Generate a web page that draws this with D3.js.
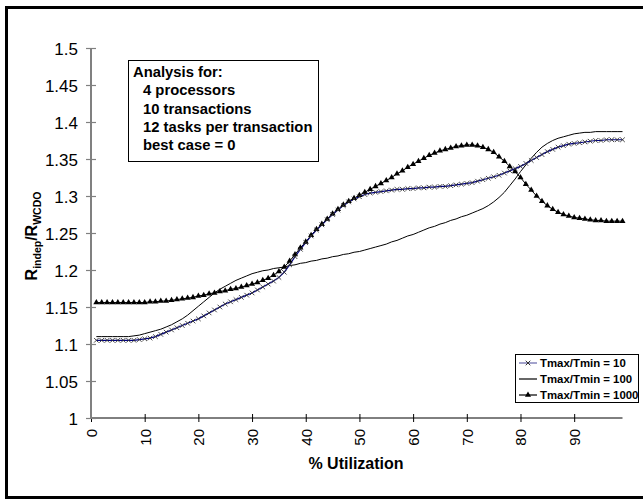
<!DOCTYPE html>
<html><head><meta charset="utf-8">
<script src="https://cdn.jsdelivr.net/npm/d3@7"></script>
<style>body{margin:0;background:#fff}svg{display:block}text{font-family:"Liberation Sans",Arial,sans-serif}</style>
</head><body>
<svg id="c" width="643" height="502"></svg>
<script>
const utilization = d3.range(1, 100);
const seriesNames = ["Tmax/Tmin = 10", "Tmax/Tmin = 100", "Tmax/Tmin = 1000"];
const t10 = [1.105,1.105,1.105,1.105,1.105,1.105,1.105,1.105,1.106,1.107,
1.108,1.110,1.113,1.116,1.119,1.122,1.125,1.128,1.131,1.134,
1.138,1.142,1.146,1.150,1.154,1.157,1.160,1.163,1.166,1.169,
1.173,1.177,1.181,1.185,1.190,1.197,1.207,1.218,1.228,1.237,
1.246,1.254,1.261,1.268,1.275,1.281,1.287,1.292,1.296,1.299,
1.302,1.304,1.305,1.306,1.307,1.308,1.309,1.309,1.310,1.310,
1.311,1.311,1.312,1.312,1.313,1.313,1.314,1.315,1.316,1.317,
1.318,1.320,1.322,1.324,1.326,1.328,1.331,1.334,1.337,1.340,
1.344,1.348,1.352,1.356,1.360,1.363,1.366,1.368,1.370,1.371,
1.372,1.373,1.374,1.375,1.375,1.376,1.376,1.376,1.376];
const t100 = [1.110,1.110,1.110,1.110,1.110,1.110,1.110,1.111,1.112,1.114,
1.116,1.118,1.120,1.123,1.126,1.130,1.134,1.139,1.145,1.151,
1.157,1.163,1.169,1.174,1.178,1.182,1.186,1.189,1.192,1.195,
1.197,1.199,1.200,1.202,1.203,1.204,1.206,1.207,1.209,1.210,
1.212,1.213,1.215,1.216,1.218,1.219,1.221,1.222,1.224,1.225,
1.227,1.229,1.231,1.233,1.235,1.238,1.240,1.243,1.246,1.248,
1.251,1.254,1.257,1.259,1.262,1.264,1.267,1.269,1.272,1.274,
1.277,1.280,1.283,1.287,1.292,1.298,1.305,1.314,1.323,1.333,
1.342,1.351,1.359,1.366,1.371,1.375,1.378,1.380,1.382,1.384,
1.385,1.386,1.386,1.387,1.387,1.387,1.387,1.387,1.387];
const t1000 = [1.156,1.156,1.156,1.156,1.156,1.156,1.156,1.156,1.156,1.156,
1.157,1.157,1.158,1.158,1.159,1.160,1.161,1.162,1.163,1.165,
1.166,1.168,1.169,1.171,1.172,1.174,1.175,1.177,1.179,1.181,
1.183,1.186,1.189,1.193,1.198,1.204,1.212,1.221,1.230,1.238,
1.247,1.255,1.262,1.269,1.276,1.282,1.288,1.293,1.297,1.301,
1.305,1.309,1.313,1.317,1.321,1.325,1.330,1.334,1.339,1.343,
1.347,1.351,1.355,1.358,1.361,1.363,1.365,1.367,1.368,1.369,
1.369,1.368,1.366,1.363,1.359,1.353,1.347,1.340,1.333,1.325,
1.316,1.308,1.300,1.293,1.287,1.282,1.278,1.275,1.273,1.271,
1.270,1.269,1.268,1.267,1.267,1.266,1.266,1.266,1.266];
const xTicks = [0,10,20,30,40,50,60,70,80,90];
const yTicks = [1,1.05,1.1,1.15,1.2,1.25,1.3,1.35,1.4,1.45,1.5];
const yTickLabels = ["1","1.05","1.1","1.15","1.2","1.25","1.3","1.35","1.4","1.45","1.5"];
const noteLines = ["Analysis for:","4 processors","10 transactions","12 tasks per transaction","best case = 0"];

const svg = d3.select("#c");
const x = d3.scaleLinear().domain([0, 99]).range([91, 622.5]);
const y = d3.scaleLinear().domain([1, 1.5]).range([418, 48]);

// frame
svg.append("rect").attr("x",6.5).attr("y",7.5).attr("width",650).attr("height",490)
  .attr("fill","none").attr("stroke","#000").attr("stroke-width",3);

// x axis
const xa = svg.append("g").attr("transform","translate(0,418)")
  .call(d3.axisBottom(x).tickValues(xTicks).tickSize(4).tickSizeOuter(0).tickFormat(d3.format("d")));
xa.select(".domain").attr("stroke","#000").attr("d","M91,0H622.5");
xa.selectAll(".tick line").attr("y1",-4).attr("y2",4).attr("stroke","#000");
xa.selectAll(".tick text").attr("transform","rotate(-90)").attr("text-anchor","end")
  .attr("x",-11).attr("y",0).attr("dy","0.36em").attr("font-size",15).attr("fill","#000");

// y axis
const ya = svg.append("g").attr("transform","translate(91,0)")
  .call(d3.axisLeft(y).tickValues(yTicks).tickSize(5).tickSizeOuter(0).tickFormat((d,i)=>yTickLabels[i]));
ya.select(".domain").attr("stroke","#808080").attr("stroke-width",2).attr("d","M0,48V418");
ya.selectAll(".tick line").attr("x1",-5).attr("x2",5).attr("stroke","#808080").attr("stroke-width",1.2);
ya.selectAll(".tick text").attr("x",-13).attr("dy","0.36em").attr("font-size",17).attr("fill","#000");

// series
const line = d3.line().x((d,i)=>x(utilization[i])).y(d=>y(d));
svg.append("path").datum(t100).attr("d",line).attr("fill","none").attr("stroke","#000").attr("stroke-width",1);
svg.append("path").datum(t1000).attr("d",line).attr("fill","none").attr("stroke","#000").attr("stroke-width",1);
svg.append("path").datum(t10).attr("d",line).attr("fill","none").attr("stroke","#000080").attr("stroke-width",1.2);

const tri = d3.symbol().type(d3.symbolTriangle).size(16)();
svg.append("g").selectAll("path").data(t1000).join("path")
  .attr("transform",(d,i)=>`translate(${x(utilization[i])},${y(d)})`)
  .attr("d",tri).attr("fill","#000");
const cross = "M-2.3,-2.3L2.3,2.3M-2.3,2.3L2.3,-2.3";
svg.append("g").selectAll("path").data(t10).join("path")
  .attr("transform",(d,i)=>`translate(${x(utilization[i])},${y(d)})`)
  .attr("d",cross).attr("fill","none").attr("stroke","#333").attr("stroke-width",0.9);

// note box
svg.append("rect").attr("x",128.5).attr("y",60.5).attr("width",190).attr("height",101)
  .attr("fill","#fff").attr("stroke","#000").attr("stroke-width",1);
svg.append("g").selectAll("text").data(noteLines).join("text")
  .attr("x",(d,i)=> i===0?133:143).attr("y",(d,i)=>77+i*18.3)
  .attr("font-size",14.8).attr("font-weight","bold").text(d=>d);

// y title
const yt = svg.append("text").attr("transform","translate(37,236) rotate(-90)")
  .attr("text-anchor","middle").attr("font-weight","bold").attr("font-size",16);
yt.append("tspan").text("R");
yt.append("tspan").attr("font-size",10.5).attr("dy",4).text("indep");
yt.append("tspan").attr("dy",-4).text("/R");
yt.append("tspan").attr("font-size",10.5).attr("dy",4).text("WCDO");

// x title
svg.append("text").attr("x",356).attr("y",469).attr("text-anchor","middle")
  .attr("font-weight","bold").attr("font-size",16).text("% Utilization");

// legend
const lg = svg.append("g");
lg.append("rect").attr("x",515.5).attr("y",354.5).attr("width",123).attr("height",48)
  .attr("fill","#fff").attr("stroke","#000").attr("stroke-width",1);
const rows = [363, 379, 395];
seriesNames.forEach((n,i)=>{
  const g = lg.append("g").attr("transform",`translate(0,${rows[i]})`);
  g.append("line").attr("x1",519).attr("x2",537).attr("y1",0).attr("y2",0)
    .attr("stroke", i===0 ? "#6666aa" : "#000").attr("stroke-width",1.2);
  if (i===0) g.append("path").attr("transform","translate(528,0)").attr("d",cross).attr("stroke","#333").attr("fill","none");
  if (i===2) g.append("path").attr("transform","translate(528,0)").attr("d",tri).attr("fill","#000");
  g.append("text").attr("x",540).attr("y",0).attr("dy","0.36em").attr("font-size",11.4)
    .attr("font-weight","bold").text(n);
});
</script>
</body></html>
